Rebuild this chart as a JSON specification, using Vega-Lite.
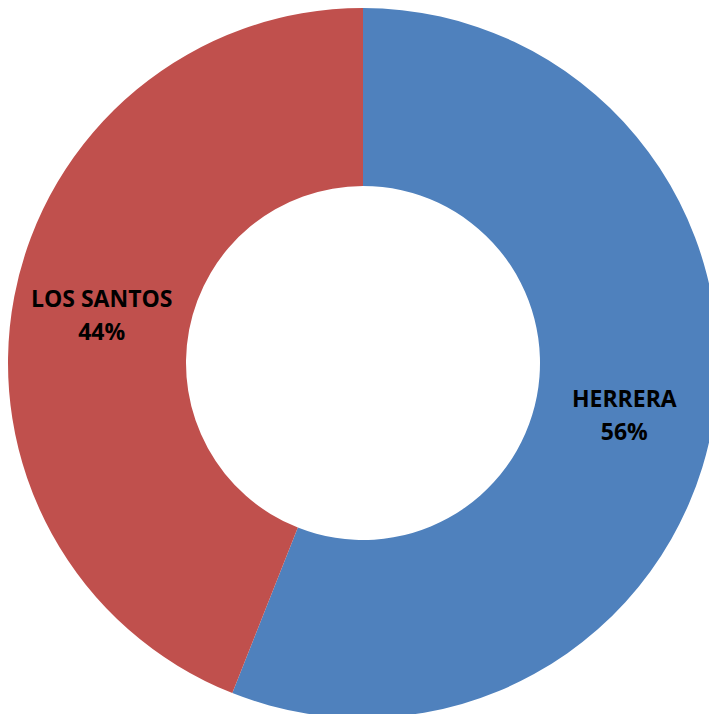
{
  "$schema": "https://vega.github.io/schema/vega-lite/v6.json",
  "width": 726,
  "height": 726,
  "padding": 0,
  "autosize": {"type": "none"},
  "background": "white",
  "view": {"stroke": null},
  "data": {"values": [
    {"region": "HERRERA", "share": 0.56},
    {"region": "LOS SANTOS", "share": 0.44}
  ]},
  "encoding": {
    "theta": {"field": "share", "type": "quantitative", "stack": true},
    "order": {"field": "region", "type": "nominal"},
    "color": {"field": "region", "type": "nominal", "legend": null,
      "scale": {"domain": ["HERRERA", "LOS SANTOS"], "range": ["#4F81BD", "#C0504D"]}}
  },
  "layer": [
    {"mark": {"type": "arc", "outerRadius": 355, "innerRadius": 177}},
    {"mark": {"type": "text", "radius": 266, "dy": -13, "font": "Open Sans", "fontWeight": "bold", "fontSize": 23, "color": "black"},
      "encoding": {"text": {"field": "region"}, "color": {"value": "black"}}},
    {"mark": {"type": "text", "radius": 266, "dy": 20, "font": "Open Sans", "fontWeight": "bold", "fontSize": 23, "color": "black"},
      "encoding": {"text": {"field": "share", "format": ".0%"}, "color": {"value": "black"}}}
  ]
}
